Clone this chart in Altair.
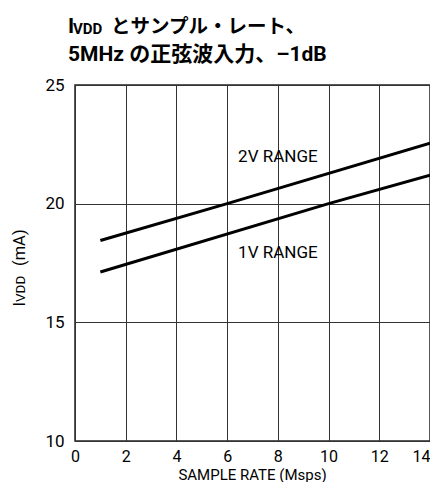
import altair as alt
import pandas as pd

# ---- data ----
rate_2v = [1, 6, 14]
ivdd_2v = [18.45, 20.0, 22.55]
rate_1v = [1, 10, 14]
ivdd_1v = [17.12, 20.0, 21.2]
label_text = ["2V RANGE", "1V RANGE"]
label_rate = [8, 8]
label_ivdd = [21.95, 17.93]
x_ticks = [0, 2, 4, 6, 8, 10, 12, 14]
y_ticks = [10, 15, 20, 25]

FONT = "Roboto, Noto Sans CJK JP"

lines_df = pd.DataFrame({
    "rate": rate_2v + rate_1v,
    "ivdd": ivdd_2v + ivdd_1v,
    "series": ["2V"] * len(rate_2v) + ["1V"] * len(rate_1v),
})
labels_df = pd.DataFrame({"t": label_text, "rate": label_rate, "ivdd": label_ivdd})

xscale = alt.Scale(domain=[0, 14], nice=False)
yscale = alt.Scale(domain=[10, 25], nice=False)

xaxis = alt.Axis(values=x_ticks, grid=True, ticks=False, domain=False,
                 labelFont=FONT, labelFontSize=16, labelColor="black",
                 labelPadding=7,
                 labelAlign=alt.condition("datum.value == 14", alt.value("right"), alt.value("center")),
                 title=None)
yaxis = alt.Axis(values=y_ticks, grid=True, ticks=False, domain=False,
                 labelFont=FONT, labelFontSize=17, labelColor="black",
                 labelPadding=11, title=None)

lines = alt.Chart(lines_df).mark_line(color="black", strokeWidth=3).encode(
    x=alt.X("rate:Q", scale=xscale, axis=xaxis),
    y=alt.Y("ivdd:Q", scale=yscale, axis=yaxis),
    detail="series:N",
)

labels = alt.Chart(labels_df).mark_text(font=FONT, fontSize=17, color="black",
                                         baseline="middle").encode(
    x=alt.X("rate:Q", scale=xscale), y=alt.Y("ivdd:Q", scale=yscale), text="t:N")


def txt(s, x, y, size, weight="normal", angle=0, align="left"):
    return alt.Chart(pd.DataFrame({"t": [s]})).mark_text(
        font=FONT, fontSize=size, fontWeight=weight, color="black",
        align=align, baseline="alphabetic", angle=angle
    ).encode(x=alt.value(x), y=alt.value(y), text="t:N")


title_layers = [
    txt("I", -7, -52, 21, "bold"),
    txt("VDD", -2, -51, 15, "bold"),
    txt("とサンプル・レート、", 36, -52, 19.5, "bold"),
    txt("5MHz の正弦波入力、–1dB", -7, -24, 21, "bold"),
    txt("I", -50, 221.5, 16.5, "normal", 270),
    txt("VDD", -50, 217, 13.5, "normal", 270),
    txt("(mA)", -50, 181, 16.5, "normal", 270),
    txt("SAMPLE RATE (Msps)", 177.5, 394.5, 15, "normal", 0, "center"),
]

chart = alt.layer(lines, labels, *title_layers).properties(
    width=355, height=356,
    autosize=alt.AutoSizeParams(type="none"),
    padding={"left": 67, "top": 77, "right": 0, "bottom": 41},
).configure_view(stroke="#222", strokeWidth=1.5).configure_axis(
    gridColor="#333", gridWidth=1, gridOpacity=1)

chart.save("out.html", embed_options={"renderer": "svg", "actions": False})
